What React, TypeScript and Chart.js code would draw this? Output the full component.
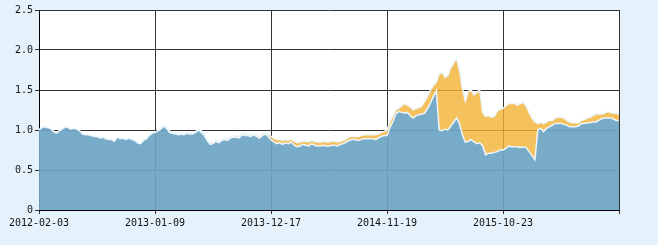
import React, { useEffect, useRef } from "react";
import { Chart, registerables } from "chart.js";

Chart.register(...registerables);

// x tick labels, one every 40 points
const tickLabels = ["2012-02-03", "2013-01-09", "2013-12-17", "2014-11-19", "2015-10-23"];
const tickStep = 40;

// lower (blue) series
const blueValues = [
  1.00, 1.03, 1.04, 1.03, 1.02, 0.98, 0.96, 0.99, 1.01, 1.04,
  1.03, 1.01, 1.02, 1.01, 0.99, 0.95, 0.94, 0.94, 0.93, 0.92,
  0.92, 0.90, 0.91, 0.89, 0.88, 0.88, 0.86, 0.91, 0.89, 0.90,
  0.88, 0.90, 0.88, 0.87, 0.84, 0.83, 0.87, 0.89, 0.93, 0.96,
  0.97, 0.99, 1.01, 1.05, 1.02, 0.97, 0.96, 0.95, 0.94, 0.95,
  0.94, 0.96, 0.95, 0.95, 0.97, 1.00, 0.97, 0.93, 0.87, 0.82,
  0.83, 0.86, 0.84, 0.87, 0.88, 0.87, 0.90, 0.91, 0.91, 0.90,
  0.94, 0.93, 0.93, 0.92, 0.94, 0.92, 0.90, 0.93, 0.95, 0.92,
  0.88, 0.85, 0.83, 0.84, 0.82, 0.84, 0.83, 0.85, 0.81, 0.79,
  0.80, 0.82, 0.81, 0.80, 0.83, 0.81, 0.80, 0.80, 0.81, 0.80,
  0.80, 0.81, 0.81, 0.80, 0.82, 0.83, 0.85, 0.87, 0.88, 0.88,
  0.87, 0.88, 0.89, 0.89, 0.89, 0.89, 0.88, 0.90, 0.92, 0.93,
  0.93, 1.03, 1.10, 1.20, 1.23, 1.22, 1.21, 1.22, 1.18, 1.15,
  1.18, 1.19, 1.20, 1.21, 1.27, 1.34, 1.42, 1.49, 1.00, 0.99,
  1.01, 1.00, 1.05, 1.10, 1.15, 1.08, 0.94, 0.85, 0.86, 0.88,
  0.85, 0.83, 0.84, 0.80, 0.69, 0.71, 0.71, 0.72, 0.73, 0.75,
  0.75, 0.77, 0.80, 0.79, 0.79, 0.79, 0.78, 0.79, 0.78, 0.73,
  0.68, 0.63, 1.00, 1.02, 0.98, 1.02, 1.04, 1.06, 1.08, 1.08,
  1.08, 1.07, 1.06, 1.04, 1.04, 1.04, 1.05, 1.08, 1.08, 1.09,
  1.09, 1.10, 1.10, 1.12, 1.14, 1.15, 1.15, 1.15, 1.14, 1.12,
  1.12,
];

// upper (orange) series
const orangeValues = [
  1.00, 1.03, 1.04, 1.03, 1.02, 0.98, 0.96, 0.99, 1.01, 1.04,
  1.03, 1.01, 1.02, 1.01, 0.99, 0.95, 0.94, 0.94, 0.93, 0.92,
  0.92, 0.90, 0.91, 0.89, 0.88, 0.88, 0.86, 0.91, 0.89, 0.90,
  0.88, 0.90, 0.88, 0.87, 0.84, 0.83, 0.87, 0.89, 0.93, 0.96,
  0.97, 0.99, 1.01, 1.06, 1.03, 0.99, 0.97, 0.96, 0.95, 0.96,
  0.96, 0.97, 0.97, 0.97, 0.98, 1.01, 0.99, 0.95, 0.88, 0.84,
  0.84, 0.87, 0.86, 0.88, 0.90, 0.89, 0.91, 0.92, 0.93, 0.92,
  0.96, 0.95, 0.95, 0.94, 0.95, 0.94, 0.92, 0.95, 0.96, 0.95,
  0.92, 0.90, 0.88, 0.88, 0.87, 0.88, 0.87, 0.89, 0.86, 0.84,
  0.85, 0.86, 0.86, 0.85, 0.87, 0.86, 0.85, 0.85, 0.86, 0.85,
  0.85, 0.86, 0.86, 0.85, 0.86, 0.87, 0.89, 0.92, 0.92, 0.92,
  0.92, 0.93, 0.94, 0.94, 0.94, 0.94, 0.94, 0.95, 0.97, 0.98,
  1.00, 1.10, 1.18, 1.25, 1.27, 1.30, 1.33, 1.31, 1.29, 1.25,
  1.27, 1.28, 1.30, 1.36, 1.42, 1.50, 1.56, 1.60, 1.70, 1.72,
  1.66, 1.68, 1.78, 1.84, 1.90, 1.75, 1.52, 1.36, 1.48, 1.50,
  1.44, 1.47, 1.50, 1.22, 1.17, 1.18, 1.16, 1.17, 1.24, 1.26,
  1.27, 1.30, 1.33, 1.33, 1.33, 1.31, 1.33, 1.35, 1.30, 1.22,
  1.15, 1.10, 1.08, 1.10, 1.08, 1.10, 1.12, 1.12, 1.15, 1.16,
  1.16, 1.15, 1.12, 1.10, 1.09, 1.09, 1.09, 1.12, 1.13, 1.15,
  1.16, 1.18, 1.20, 1.20, 1.20, 1.21, 1.23, 1.22, 1.21, 1.21,
  1.20,
];

const bgPlugin = {
  id: "bgPlugin",
  beforeDraw(chart: any) {
    const { ctx, chartArea } = chart;
    ctx.save();
    ctx.fillStyle = "#e6f2fb";
    ctx.fillRect(0, 0, chart.width, chart.height);
    ctx.fillStyle = "#ffffff";
    ctx.fillRect(chartArea.left, chartArea.top, chartArea.right - chartArea.left, chartArea.bottom - chartArea.top);
    ctx.restore();
  },
};

export default function App() {
  const ref = useRef<HTMLCanvasElement | null>(null);

  useEffect(() => {
    document.body.style.margin = "0";
    const canvas = ref.current;
    if (!canvas) return;
    const toPts = (arr: number[]) => arr.map((y, i) => ({ x: i, y }));
    const font = { family: "'DejaVu Sans Mono', monospace", size: 10 };
    const chart = new Chart(canvas, {
      type: "line",
      data: {
        datasets: [
          {
            label: "lower",
            data: toPts(blueValues),
            borderColor: "rgba(236,246,252,1)",
            borderWidth: 1.5,
            backgroundColor: "rgba(110,165,196,0.93)",
            fill: "origin",
            pointRadius: 0,
            tension: 0,
          },
          {
            label: "upper",
            data: toPts(orangeValues),
            borderColor: "rgba(236,246,252,1)",
            borderWidth: 1.5,
            backgroundColor: "rgba(243,178,53,0.8)",
            fill: "-1",
            pointRadius: 0,
            tension: 0,
          },
        ],
      },
      options: {
        responsive: false,
        animation: false,
        events: [],
        layout: { padding: { top: 10, right: 39, left: 0, bottom: 0 } },
        plugins: { legend: { display: false }, tooltip: { enabled: false } },
        scales: {
          x: {
            type: "linear",
            min: 0,
            max: blueValues.length - 1,
            afterFit: (s: any) => { s.height = 35; },
            ticks: {
              stepSize: tickStep,
              autoSkip: false,
              maxRotation: 0,
              color: "#111",
              font,
              padding: 3,
              callback: (v: any) => {
                const k = Number(v) / tickStep;
                return Number.isInteger(k) && k < tickLabels.length ? tickLabels[k] : "";
              },
            },
            grid: { color: "#333", lineWidth: 1, tickLength: 4, drawTicks: true },
            border: { display: true, color: "#000", width: 1 },
          },
          y: {
            min: 0,
            max: 2.5,
            afterFit: (s: any) => { s.width = 39; },
            ticks: { stepSize: 0.5, color: "#111", font, padding: 2 },
            grid: { color: "#333", lineWidth: 1, tickLength: 4, drawTicks: true },
            border: { display: true, color: "#000", width: 1 },
          },
        },
      },
      plugins: [bgPlugin],
    });
    return () => chart.destroy();
  }, []);

  return (
    <div style={{ width: 658, height: 245 }}>
      <canvas ref={ref} width={658} height={245} style={{ display: "block" }} />
    </div>
  );
}
